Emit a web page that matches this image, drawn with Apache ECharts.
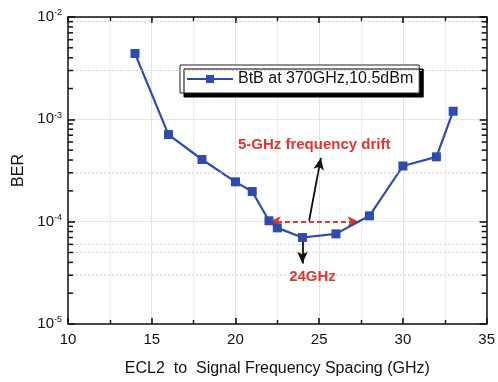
<!DOCTYPE html>
<html>
<head>
<meta charset="utf-8">
<script src="https://cdn.jsdelivr.net/npm/echarts@6/dist/echarts.min.js"></script>
<style>
  html, body { margin: 0; padding: 0; background: #fff; }
  #chart { width: 498px; height: 382px; }
</style>
</head>
<body>
<div id="chart"></div>
<script>
// data
const spacing = [14, 16, 18, 20, 21, 22, 22.5, 24, 26, 28, 30, 32, 33];
const ber = [4.4e-3, 7.1e-4, 4.05e-4, 2.45e-4, 1.97e-4, 1.02e-4, 8.7e-5, 7.0e-5, 7.6e-5, 1.14e-4, 3.5e-4, 4.3e-4, 1.2e-3];
const seriesName = 'BtB at 370GHz,10.5dBm';

// minor log ticks (2..9 per decade) and the faint dotted grid rows
const yMinor = [];
[1e-5, 1e-4, 1e-3].forEach(d => { for (let k = 2; k <= 9; k++) yMinor.push(k * d); });
const yDotted = [3e-5, 5e-5, 6e-5, 3e-4, 3e-3, 9e-3];

// annotation anchors (data coords)
const driftArrow = [[22, 1e-4], [27.4, 1e-4]];
const upArrow = [[24.4, 1.02e-4], [25.1, 4.2e-4]];
const downArrow = [[24, 6.8e-5], [24, 3.9e-5]];
const driftText = [24.7, 5.6e-4];
const minText = [24.6, 2.9e-5];

const red = '#e3342f';
const blue = '#2e4cb0';
const font = '"Liberation Sans", Arial, sans-serif';

const chart = echarts.init(document.getElementById('chart'));

const sup = {
    base: {fontSize: 15, fontFamily: font, color: '#111'},
    sup: {fontSize: 9, fontFamily: font, color: '#111', verticalAlign: 'top', padding: [0, 0, 8, 0]}
};

// kind 0 = dotted row, 1 = left minor tick, 2 = right minor tick
const decorData = yDotted.map(v => [10, v, 0])
    .concat(yMinor.map(v => [10, v, 1]))
    .concat(yMinor.map(v => [10, v, 2]));

const option = {
    animation: false,
    grid: {left: 68, right: 10, top: 17, bottom: 56},
    legend: {
        data: [seriesName],
        left: 180, top: 65,
        itemWidth: 46, itemHeight: 10, itemGap: 6,
        padding: [6, 6, 6, 6],
        backgroundColor: '#fff',
        borderColor: '#222', borderWidth: 1, borderRadius: 0,
        shadowColor: '#000', shadowOffsetX: 4, shadowOffsetY: 4, shadowBlur: 0,
        textStyle: {fontSize: 16, fontFamily: font, color: '#111'}
    },
    xAxis: [{
        type: 'value', min: 10, max: 35, interval: 5,
        name: 'ECL2  to  Signal Frequency Spacing (GHz)',
        nameLocation: 'middle', nameGap: 37,
        nameTextStyle: {fontSize: 16, fontFamily: font, color: '#111'},
        axisLine: {lineStyle: {color: '#111', width: 1.5}},
        axisTick: {inside: true, length: 6, lineStyle: {color: '#111', width: 1.6}},
        minorTick: {show: true, splitNumber: 2, length: 4, lineStyle: {color: '#111', width: 1.4}},
        axisLabel: {fontSize: 15, fontFamily: font, color: '#111', margin: 8},
        splitLine: {show: true, lineStyle: {color: '#e2e2e2', width: 1}},
        minorSplitLine: {show: true, lineStyle: {color: '#ececec', width: 1}}
    }, {
        type: 'value', min: 10, max: 35, interval: 5, position: 'top',
        axisLine: {lineStyle: {color: '#111', width: 1.5}},
        axisTick: {inside: true, length: 6, lineStyle: {color: '#111', width: 1.6}},
        minorTick: {show: true, splitNumber: 2, length: 4, lineStyle: {color: '#111', width: 1.4}},
        axisLabel: {show: false},
        splitLine: {show: false}
    }],
    yAxis: [{
        type: 'log', min: 1e-5, max: 1e-2, logBase: 10,
        name: 'BER', nameLocation: 'middle', nameGap: 40,
        nameTextStyle: {fontSize: 16, fontFamily: font, color: '#111'},
        axisLine: {lineStyle: {color: '#111', width: 1.5}},
        axisTick: {show: true, inside: true, length: 7, lineStyle: {color: '#111', width: 1.6}},
        axisLabel: {
            margin: 6,
            formatter: v => '{base|10}{sup|' + Math.round(Math.log10(v)) + '}',
            rich: sup
        },
        splitLine: {show: true, lineStyle: {color: '#e6e6e6', width: 1}}
    }, {
        type: 'log', min: 1e-5, max: 1e-2, logBase: 10, position: 'right',
        axisLine: {lineStyle: {color: '#111', width: 1.5}},
        axisTick: {show: true, inside: true, length: 7, lineStyle: {color: '#111', width: 1.6}},
        axisLabel: {show: false},
        splitLine: {show: false}
    }],
    series: [{
        // dotted grid rows + minor log ticks on the frame
        type: 'custom',
        silent: true,
        data: decorData,
        renderItem: (params, api) => {
            const cs = params.coordSys;
            const y = api.coord([10, api.value(1)])[1];
            const kind = api.value(2);
            if (kind === 0) {
                return {
                    type: 'line',
                    shape: {x1: cs.x, y1: y, x2: cs.x + cs.width, y2: y},
                    style: {stroke: '#cfcfcf', lineWidth: 1, lineDash: [2, 2]}
                };
            }
            const x0 = kind === 1 ? cs.x : cs.x + cs.width - 5;
            return {
                type: 'rect',
                shape: {x: x0, y: y - 0.75, width: 5, height: 1.5},
                style: {fill: '#111'}
            };
        },
        z: 6
    }, {
        name: seriesName,
        type: 'line',
        data: spacing.map((x, i) => [x, ber[i]]),
        symbol: 'rect', symbolSize: 9,
        lineStyle: {color: blue, width: 2.2},
        itemStyle: {color: blue},
        z: 5,
        markLine: {
            silent: true,
            animation: false,
            label: {show: false},
            data: [
                [{coord: driftArrow[0], symbol: 'arrow', symbolSize: [8, 12],
                  lineStyle: {color: red, width: 2, type: [5, 3]}, itemStyle: {color: red}},
                 {coord: driftArrow[1], symbol: 'arrow', symbolSize: [8, 12]}],
                [{coord: upArrow[0], symbol: 'none',
                  lineStyle: {color: '#111', width: 1.8, type: 'solid'}, itemStyle: {color: '#111'}},
                 {coord: upArrow[1], symbol: 'arrow', symbolSize: [8, 12]}],
                [{coord: downArrow[0], symbol: 'none',
                  lineStyle: {color: '#111', width: 1.8, type: 'solid'}, itemStyle: {color: '#111'}},
                 {coord: downArrow[1], symbol: 'arrow', symbolSize: [8, 12]}]
            ]
        }
    }]
};

chart.setOption(option);

// annotation texts placed through the axes
const p1 = chart.convertToPixel({gridIndex: 0}, driftText);
const p2 = chart.convertToPixel({gridIndex: 0}, minText);
chart.setOption({
    graphic: [{
        type: 'text', x: p1[0], y: p1[1], z: 10,
        style: {text: '5-GHz frequency drift', fill: red, font: 'bold 15px ' + font,
                textAlign: 'center', textVerticalAlign: 'middle'}
    }, {
        type: 'text', x: p2[0], y: p2[1], z: 10,
        style: {text: '24GHz', fill: red, font: 'bold 15px ' + font,
                textAlign: 'center', textVerticalAlign: 'middle'}
    }]
});
</script>
</body>
</html>
